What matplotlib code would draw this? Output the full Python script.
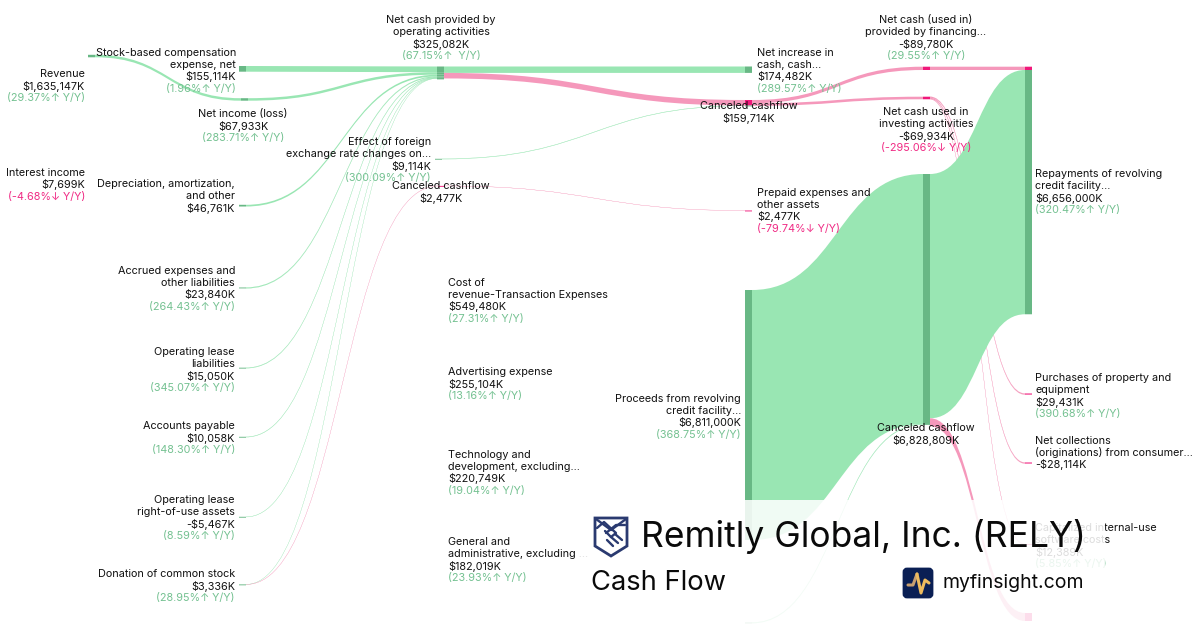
import matplotlib
matplotlib.use("Agg")
import matplotlib.pyplot as plt
from matplotlib.path import Path
from matplotlib.patches import PathPatch, Rectangle, FancyBboxPatch, Polygon

plt.rcParams['font.family'] = ['Inter', 'DejaVu Sans']

# ---- data (thousands of USD) ----
link_source = ['revenue', 'sbc', 'net_income', 'depreciation', 'accrued', 'lease_liab', 'payable',
               'lease_rou', 'donation', 'donation', 'canceled_small', 'net_cash_op', 'net_cash_op',
               'fx', 'canceled_mid', 'canceled_mid', 'financing', 'investing', 'investing', 'investing',
               'proceeds', 'hidden_in', 'canceled_big', 'canceled_big']
link_target = ['net_income', 'net_cash_op', 'net_cash_op', 'net_cash_op', 'net_cash_op', 'net_cash_op', 'net_cash_op',
               'net_cash_op', 'net_cash_op', 'canceled_small', 'prepaid', 'net_increase', 'canceled_mid',
               'canceled_mid', 'financing', 'investing', 'repay', 'purchases', 'collections', 'capitalized',
               'canceled_big', 'canceled_big', 'repay', 'hidden_out']
link_value = [67933, 155114, 67933, 46761, 23840, 15050, 10058,
              5467, 859, 2477, 2477, 174482, 150600,
              9114, 89780, 69934, 89780, 29431, 28114, 12389,
              6811000, 17809, 6656000, 218000]
link_kind = ['g', 'g', 'g', 'g', 'g', 'g', 'g', 'g', 'g', 'p', 'p', 'g', 'p',
             'g', 'p', 'p', 'p', 'p', 'p', 'p', 'g', 'g', 'g', 'p']

label_lines = [
    ('Revenue', ['Revenue', '$1,635,147K', '(29.37%↑ Y/Y)'], 'g'),
    ('Interest', ['Interest income', '$7,699K', '(-4.68%↓ Y/Y)'], 'p'),
    ('SBC', ['Stock-based compensation', 'expense, net', '$155,114K', '(1.96%↑ Y/Y)'], 'g'),
    ('NI', ['Net income (loss)', '$67,933K', '(283.71%↑ Y/Y)'], 'g'),
    ('Dep', ['Depreciation, amortization,', 'and other', '$46,761K'], None),
    ('Accrued', ['Accrued expenses and', 'other liabilities', '$23,840K', '(264.43%↑ Y/Y)'], 'g'),
    ('LeaseL', ['Operating lease', 'liabilities', '$15,050K', '(345.07%↑ Y/Y)'], 'g'),
    ('AP', ['Accounts payable', '$10,058K', '(148.30%↑ Y/Y)'], 'g'),
    ('ROU', ['Operating lease', 'right-of-use assets', '-$5,467K', '(8.59%↑ Y/Y)'], 'g'),
    ('Donation', ['Donation of common stock', '$3,336K', '(28.95%↑ Y/Y)'], 'g'),
    ('NetOp', ['Net cash provided by', 'operating activities', '$325,082K', '(67.15%↑  Y/Y)'], 'g'),
    ('FX', ['Effect of foreign', 'exchange rate changes on...', '$9,114K', '(300.09%↑ Y/Y)'], 'g'),
    ('CanS', ['Canceled cashflow', '$2,477K'], None),
    ('Cost', ['Cost of', 'revenue-Transaction Expenses', '$549,480K', '(27.31%↑ Y/Y)'], 'g'),
    ('Adv', ['Advertising expense', '$255,104K', '(13.16%↑ Y/Y)'], 'g'),
    ('Tech', ['Technology and', 'development, excluding...', '$220,749K', '(19.04%↑ Y/Y)'], 'g'),
    ('GA', ['General and', 'administrative, excluding ...', '$182,019K', '(23.93%↑ Y/Y)'], 'g'),
    ('Proc', ['Proceeds from revolving', 'credit facility...', '$6,811,000K', '(368.75%↑ Y/Y)'], 'g'),
    ('Inc', ['Net increase in', 'cash, cash...', '$174,482K', '(289.57%↑ Y/Y)'], 'g'),
    ('CanM', ['Canceled cashflow', '$159,714K'], None),
    ('Pre', ['Prepaid expenses and', 'other assets', '$2,477K', '(-79.74%↓ Y/Y)'], 'p'),
    ('Fin', ['Net cash (used in)', 'provided by financing...', '-$89,780K', '(29.55%↑ Y/Y)'], 'g'),
    ('Inv', ['Net cash used in', 'investing activities', '-$69,934K', '(-295.06%↓ Y/Y)'], 'p'),
    ('CanB', ['Canceled cashflow', '$6,828,809K'], None),
    ('Rep', ['Repayments of revolving', 'credit facility...', '$6,656,000K', '(320.47%↑ Y/Y)'], 'g'),
    ('Pur', ['Purchases of property and', 'equipment', '$29,431K', '(390.68%↑ Y/Y)'], 'g'),
    ('Col', ['Net collections', '(originations) from consumer...', '-$28,114K'], None),
    ('Cap', ['Capitalized internal-use', 'software costs', '$12,389K', '(5.85%↑ Y/Y)'], 'g'),
]

# ---- layout ----
SCALE = 3.67e-5          # px per $1000K
NODE_W = 7
MIN_NODE_H = 0.9
THIN_LINK = 1.5
node_pos = {  # left x, top y
    'revenue': (88, 54.8), 'sbc': (239, 66), 'net_income': (241, 98.2), 'depreciation': (239, 204.8),
    'accrued': (239, 287.5), 'lease_liab': (239, 367.7), 'payable': (239, 436.8), 'lease_rou': (239, 516.8),
    'donation': (239, 584.4), 'net_cash_op': (437, 66.5), 'fx': (435, 158.8), 'canceled_small': (438, 185.9),
    'net_increase': (745, 66.5), 'canceled_mid': (745, 100), 'prepaid': (745, 210.5), 'proceeds': (745, 290),
    'hidden_in': (745, 622.5), 'financing': (923, 66.7), 'investing': (923, 96.7), 'canceled_big': (923, 174),
    'repay': (1025, 66.7), 'purchases': (1025, 393.5), 'collections': (1025, 462.5), 'capitalized': (1025, 544),
    'hidden_out': (1025, 613),
}
label_pos = {  # x, alignment, first-line y
    'Revenue': (85, 'right', 74), 'Interest': (85, 'right', 173), 'SBC': (236, 'right', 53),
    'NI': (243, 'center', 114), 'Dep': (235, 'right', 184), 'Accrued': (235, 'right', 271),
    'LeaseL': (235, 'right', 352), 'AP': (235, 'right', 426), 'ROU': (235, 'right', 500),
    'Donation': (235, 'right', 574), 'NetOp': (441, 'center', 20), 'FX': (431, 'right', 142),
    'CanS': (441, 'center', 186), 'Cost': (448, 'left', 283), 'Adv': (448, 'left', 372),
    'Tech': (448, 'left', 455), 'GA': (448, 'left', 542), 'Proc': (741, 'right', 399),
    'Inc': (757, 'left', 53), 'CanM': (749, 'center', 106), 'Pre': (757, 'left', 193),
    'Fin': (926, 'center', 20), 'Inv': (926, 'center', 112), 'CanB': (926, 'center', 428),
    'Rep': (1035, 'left', 174), 'Pur': (1035, 'left', 378), 'Col': (1035, 'left', 441),
    'Cap': (1035, 'left', 528),
}
LINK_COL = {'g': '#99e6b3', 'p': '#f598bb'}
NODE_COL = {'g': '#68b885', 'p': '#f0177a'}
TEXT_COL = {'g': '#74c191', 'p': '#f02a84', None: '#111111'}

fig = plt.figure(figsize=(12, 6.3), dpi=100)
ax = fig.add_axes([0, 0, 1, 1])
ax.set_xlim(0, 1200)
ax.set_ylim(630, 0)
ax.axis('off')

out_off, in_off = {}, {}
for s, t, v, k in zip(link_source, link_target, link_value, link_kind):
    w = v * SCALE
    x0 = node_pos[s][0] + NODE_W
    x1 = node_pos[t][0]
    y0 = node_pos[s][1] + out_off.get(s, 0)
    y1 = node_pos[t][1] + in_off.get(t, 0)
    out_off[s] = out_off.get(s, 0) + w
    in_off[t] = in_off.get(t, 0) + w
    xm = (x0 + x1) / 2
    verts = [(x0, y0), (xm, y0), (xm, y1), (x1, y1), (x1, y1 + w), (xm, y1 + w), (xm, y0 + w), (x0, y0 + w), (x0, y0)]
    codes = [Path.MOVETO, Path.CURVE4, Path.CURVE4, Path.CURVE4, Path.LINETO,
             Path.CURVE4, Path.CURVE4, Path.CURVE4, Path.CLOSEPOLY]
    thin = w < THIN_LINK
    # thin ribbons run beneath the wide ones
    ax.add_patch(PathPatch(Path(verts, codes), fc=LINK_COL[k], ec=LINK_COL[k] if thin else 'none',
                           lw=0.13 if thin else 0, zorder=1.5 if thin else 2, snap=False))

# nodes: coloured by incoming links; pure sources by their first outgoing link
seg_in = {}
for t, v, k in zip(link_target, link_value, link_kind):
    w = v * SCALE
    x, top = node_pos[t]
    y = top + seg_in.get(t, 0)
    seg_in[t] = seg_in.get(t, 0) + w
    ax.add_patch(Rectangle((x, y), NODE_W, max(w, MIN_NODE_H), fc=NODE_COL[k], ec='none', lw=0, zorder=3, snap=False))
done = set(link_target)
for s, k in zip(link_source, link_kind):
    if s in done:
        continue
    done.add(s)
    x, top = node_pos[s]
    ax.add_patch(Rectangle((x, top), NODE_W, max(out_off[s], MIN_NODE_H), fc=NODE_COL[k], ec='none', lw=0, zorder=3, snap=False))

for key, lines, tone in label_lines:
    x, ha, y0 = label_pos[key]
    for i, line in enumerate(lines):
        is_delta = line.startswith('(') and 'Y/Y' in line
        ax.text(x, y0 + 12 * i, line, ha=ha, va='center', fontsize=7.8,
                color=TEXT_COL[tone] if is_delta else TEXT_COL[None], zorder=5)

# translucent panel behind the branding
ax.add_patch(Rectangle((578, 500), 527, 130, fc='white', ec='none', alpha=0.86, zorder=6))

ax.text(641, 537, 'Remitly Global, Inc. (RELY)', fontsize=25.5, color='#0a0a0a', va='center', ha='left', zorder=8)
ax.text(591, 583, 'Cash Flow', fontsize=19.7, color='#0a0a0a', va='center', ha='left', zorder=8)
ax.text(943, 583, 'myfinsight.com', fontsize=14, color='#0a0a0a', va='center', ha='left', zorder=8)

# Remitly mark
navy = '#2a3a70'
ax.add_patch(Polygon([(595, 518), (627, 518), (627, 546), (611, 556), (595, 546)], closed=True,
                     fc='none', ec=navy, lw=2, zorder=8))
for seg in [[(596, 519), (611, 530), (626, 519)],
            [(597, 528), (604, 522), (616, 533), (611, 537), (605, 531)],
            [(625, 525), (616, 525), (606, 533)],
            [(607, 540), (613, 546)], [(611, 537), (618, 543)], [(615, 534), (622, 540)]]:
    ax.plot(*zip(*seg), color=navy, lw=1.7, zorder=8, solid_capstyle='round')

# myfinsight mark
ax.add_patch(FancyBboxPatch((904, 569), 28, 28, boxstyle='round,pad=0,rounding_size=3', fc='#0a1f54', ec='#0a1f54',
                            lw=2, zorder=8))
ax.plot([908, 913, 917], [585, 585, 574], color='#c79f70', lw=2.2, zorder=9, solid_capstyle='round')
ax.plot([917, 921, 925, 929], [574, 593, 580, 583], color='#edbb5e', lw=2.2, zorder=9, solid_capstyle='round')

fig.savefig('out.png', dpi=100, facecolor='white')
